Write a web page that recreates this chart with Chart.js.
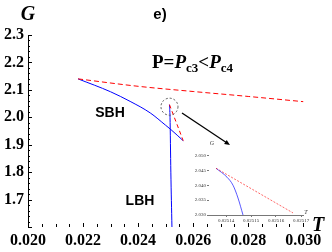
<!DOCTYPE html>
<html>
<head>
<meta charset="utf-8">
<script src="https://cdn.jsdelivr.net/npm/chart.js"></script>
<style>
  body { margin: 0; background: #fff; }
  #wrap { position: relative; width: 332px; height: 252px; }
  #inset { position: absolute; left: 185px; top: 135px; }
</style>
</head>
<body>
<div id="wrap">
  <canvas id="main" width="332" height="252"></canvas>
  <canvas id="inset" width="135" height="100"></canvas>
</div>
<script>
// main plot: small black hole branch, large black hole branch, dashed (unstable) branches
let sbhT = [0.02182, 0.0230, 0.02371, 0.02444, 0.02500, 0.02520, 0.02564];
let sbhG = [2.140, 2.093, 2.058, 2.016, 1.971, 1.9545, 1.9145];
let lbhT = [0.02514, 0.02516, 0.02519, 0.02523];
let lbhG = [2.046, 2.000, 1.800, 1.600];
let dashT = [0.02182, 0.0240, 0.0260, 0.0280, 0.0300];
let dashG = [2.140, 2.113, 2.094, 2.076, 2.057];
let cuspT = [0.02514, 0.02564];
let cuspG = [2.046, 1.9145];

// inset (zoom on the cusp)
let insetBlueT = [0.025136, 0.0251404, 0.0251428, 0.0251448, 0.0251468];
let insetBlueG = [2.0457, 2.0427, 2.0400, 2.0357, 2.0300];
let insetRedT = [0.025136, 0.0251668];
let insetRedG = [2.0457, 2.0307];

const serif = 'Liberation Serif';
const sans = 'Liberation Sans';
Chart.defaults.font.family = serif;
Chart.defaults.color = '#000';

function puntos(xs, ys) {
    return xs.map((x, i) => ({x: x, y: ys[i]}));
}

function linea(xs, ys, color, dash, ancho) {
    return {
        data: puntos(xs, ys),
        borderColor: color,
        borderWidth: ancho || 1,
        borderDash: dash || [],
        pointRadius: 0,
        fill: false,
        cubicInterpolationMode: 'monotone'
    };
}

function textoPartes(ctx, x, y, partes) {
    partes.forEach(p => {
        ctx.font = p.f;
        ctx.fillText(p.t, x, y + (p.dy || 0));
        x += ctx.measureText(p.t).width;
    });
}

const marcas = {
    id: 'marcas',
    afterDraw(chart) {
        const {ctx, chartArea, scales} = chart;
        ctx.save();
        ctx.strokeStyle = '#000';
        ctx.lineWidth = 1;
        ctx.beginPath();
        for (let v = 160; v <= 230; v += 2) {
            const y = Math.round(scales.y.getPixelForValue(v / 100)) + 0.5;
            const len = v % 10 === 0 ? 4 : 2;
            ctx.moveTo(chartArea.left, y);
            ctx.lineTo(chartArea.left + len, y);
        }
        for (let v = 200; v <= 305; v += 5) {
            const x = Math.round(scales.x.getPixelForValue(v / 10000)) + 0.5;
            const len = v % 20 === 0 ? 4 : 3;
            ctx.moveTo(x, chartArea.bottom);
            ctx.lineTo(x, chartArea.bottom - len);
        }
        ctx.stroke();

        // titulos y etiquetas
        ctx.fillStyle = '#000';
        ctx.textAlign = 'center';
        ctx.textBaseline = 'middle';
        ctx.font = 'italic bold 20px ' + serif;
        ctx.fillText('G', 28, 15);
        ctx.fillText('T', 318, 226);
        ctx.font = 'bold 15px ' + sans;
        ctx.fillText('e)', 160, 15);
        ctx.font = 'bold 14px ' + sans;
        ctx.fillText('SBH', 110, 113);
        ctx.fillText('LBH', 140, 201);

        ctx.textAlign = 'left';
        ctx.textBaseline = 'alphabetic';
        textoPartes(ctx, 152, 68, [
            {t: 'P=', f: 'bold 19px ' + serif},
            {t: 'P', f: 'italic bold 19px ' + serif},
            {t: 'c3', f: 'bold 13px ' + serif, dy: 4},
            {t: '<', f: 'bold 19px ' + serif},
            {t: 'P', f: 'italic bold 19px ' + serif},
            {t: 'c4', f: 'bold 13px ' + serif, dy: 4}
        ]);

        // circulo punteado sobre la cuspide
        const cx = scales.x.getPixelForValue(cuspT[0]);
        const cy = scales.y.getPixelForValue(cuspG[0]) + 2;
        ctx.strokeStyle = '#555';
        ctx.setLineDash([2, 2]);
        ctx.beginPath();
        ctx.arc(cx, cy, 8.5, 0, Math.PI * 2);
        ctx.stroke();
        ctx.setLineDash([]);

        // flecha hacia el recuadro
        const x0 = 182, y0 = 113, x1 = 230, y1 = 145;
        const ang = Math.atan2(y1 - y0, x1 - x0);
        ctx.strokeStyle = '#000';
        ctx.lineWidth = 1.3;
        ctx.beginPath();
        ctx.moveTo(x0, y0);
        ctx.lineTo(x1 - 4 * Math.cos(ang), y1 - 4 * Math.sin(ang));
        ctx.stroke();
        ctx.beginPath();
        ctx.moveTo(x1, y1);
        ctx.lineTo(x1 - 6 * Math.cos(ang - 0.4), y1 - 6 * Math.sin(ang - 0.4));
        ctx.lineTo(x1 - 6 * Math.cos(ang + 0.4), y1 - 6 * Math.sin(ang + 0.4));
        ctx.closePath();
        ctx.fillStyle = '#000';
        ctx.fill();
        ctx.restore();
    }
};

const grafica = new Chart(document.getElementById('main'), {
    type: 'line',
    data: {
        datasets: [
            linea(dashT, dashG, '#ff0000', [5, 3]),
            linea(cuspT, cuspG, '#ff0000', [4, 3]),
            linea(sbhT, sbhG, '#0000ff'),
            linea(lbhT, lbhG, '#0000ff')
        ]
    },
    options: {
        responsive: false,
        devicePixelRatio: 1,
        animation: false,
        layout: {padding: {top: 35, right: 15, left: 0, bottom: 0}},
        plugins: {legend: {display: false}, tooltip: {enabled: false}},
        scales: {
            x: {
                type: 'linear',
                min: 0.020,
                max: 0.0305,
                afterFit: s => { s.height = 25; },
                grid: {display: false, drawTicks: false},
                border: {display: false},
                ticks: {
                    stepSize: 0.002,
                    includeBounds: false,
                    autoSkip: false,
                    maxRotation: 0,
                    padding: 4,
                    font: {family: serif, size: 16, weight: 'bold'},
                    callback: v => v.toFixed(3)
                }
            },
            y: {
                type: 'linear',
                min: 1.6,
                max: 2.3,
                afterFit: s => { s.width = 28; },
                grid: {display: false, drawTicks: false},
                border: {display: true, color: '#000', width: 1},
                ticks: {
                    stepSize: 0.1,
                    padding: 4,
                    font: {family: serif, size: 16, weight: 'bold'},
                    callback: v => (Math.abs(v - 1.6) < 1e-6 ? '' : v.toFixed(1))
                }
            }
        }
    },
    plugins: [marcas]
});

const titulosInset = {
    id: 'titulosInset',
    afterDraw(chart) {
        const ctx = chart.ctx;
        ctx.save();
        ctx.fillStyle = '#333';
        ctx.textAlign = 'center';
        ctx.textBaseline = 'middle';
        ctx.font = 'italic 6px ' + serif;
        ctx.fillText('G', 27, 8);
        ctx.fillText('T', 121, 77);
        ctx.restore();
    }
};

const inset = new Chart(document.getElementById('inset'), {
    type: 'line',
    data: {
        datasets: [
            linea(insetRedT, insetRedG, 'rgba(255,0,0,0.6)', [2, 1.5], 1),
            linea(insetBlueT, insetBlueG, 'rgba(0,0,255,0.65)', [], 1)
        ]
    },
    options: {
        responsive: false,
        devicePixelRatio: 1,
        animation: false,
        layout: {padding: {top: 13, right: 17, left: 0, bottom: 0}},
        plugins: {legend: {display: false}, tooltip: {enabled: false}},
        scales: {
            x: {
                type: 'linear',
                min: 0.0251332,
                max: 0.0251708,
                afterFit: s => { s.height = 20; },
                grid: {drawOnChartArea: false, drawTicks: true, tickLength: 2, color: '#777'},
                border: {display: true, color: '#777', width: 1},
                ticks: {
                    stepSize: 0.00001,
                    includeBounds: false,
                    autoSkip: false,
                    maxRotation: 0,
                    padding: 1,
                    color: '#333',
                    font: {family: serif, size: 5},
                    callback: v => v.toFixed(5)
                }
            },
            y: {
                type: 'linear',
                min: 2.030,
                max: 2.0525,
                afterFit: s => { s.width = 24; },
                grid: {drawOnChartArea: false, drawTicks: true, tickLength: 2, color: '#777'},
                border: {display: false},
                ticks: {
                    stepSize: 0.005,
                    includeBounds: false,
                    padding: 1,
                    color: '#333',
                    font: {family: serif, size: 5},
                    callback: v => v.toFixed(3)
                }
            }
        }
    },
    plugins: [titulosInset]
});
</script>
</body>
</html>
